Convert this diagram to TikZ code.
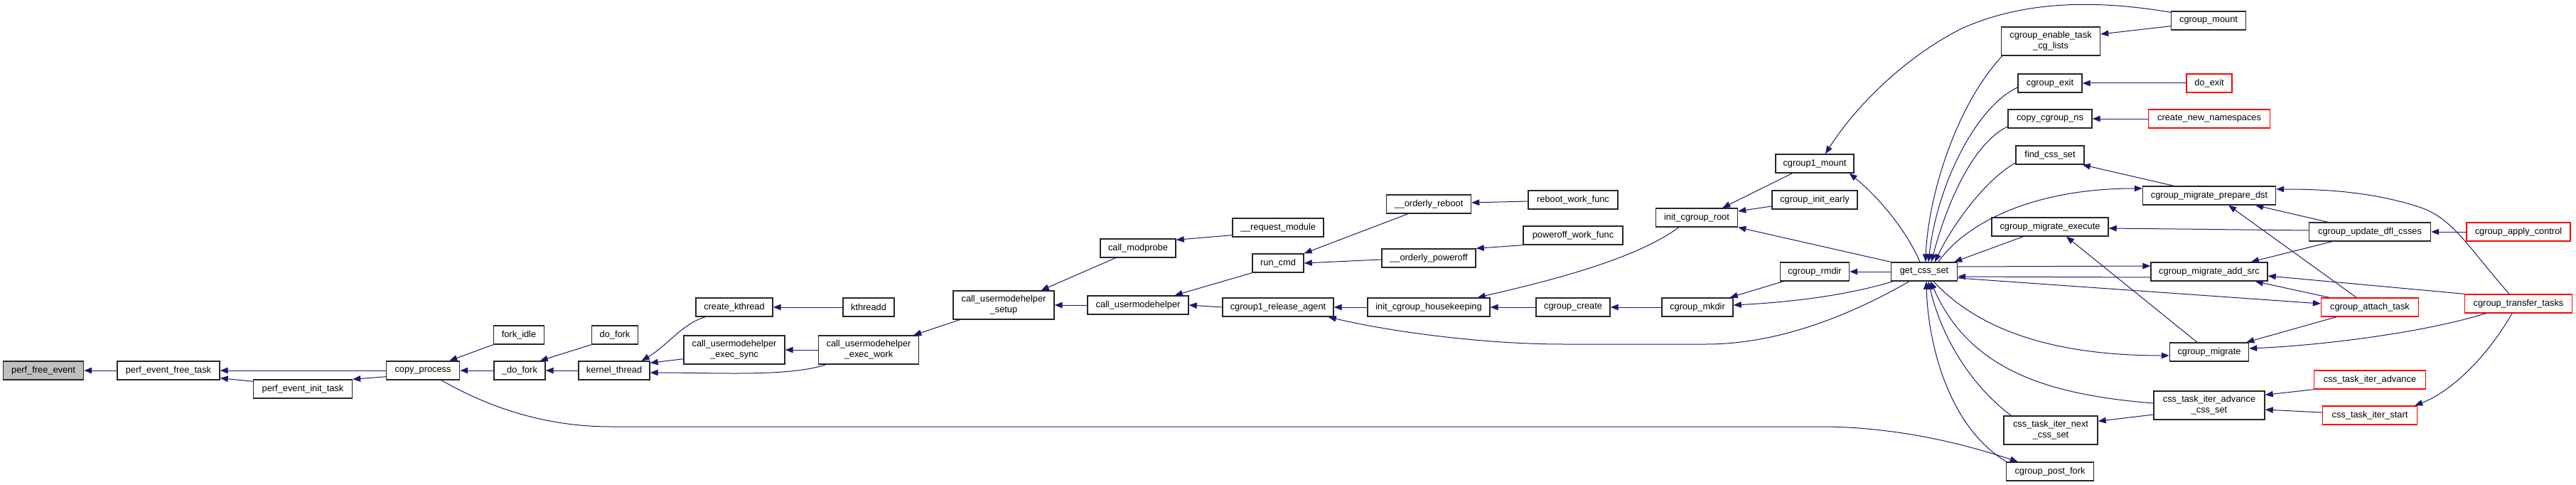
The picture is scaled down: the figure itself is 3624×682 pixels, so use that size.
\documentclass[tikz,border=0pt]{standalone}
\usepackage{fontspec}
\setmainfont{Liberation Sans}
\usetikzlibrary{arrows.meta}
\definecolor{CallBlue}{RGB}{25,25,112}
\definecolor{RootGray}{RGB}{191,191,191}
\definecolor{CutRed}{RGB}{255,0,0}
\newcommand{\fnfont}{\fontsize{12.8}{15}\selectfont}

\begin{document}
\begin{tikzpicture}[x=1pt,y=-1pt,
  fn/.style={draw=black!85,line width=1.4pt,fill=white,inner sep=0pt,minimum height=26pt,font=\fnfont,align=center},
  fn2/.style={fn,minimum height=40pt},
  cut/.style={draw=CutRed},
  call/.style={draw=CallBlue,line width=1pt,-{Triangle[length=11pt,width=8.5pt]}}]
  \useasboundingbox (0,0) rectangle (3624,682);
  % functions
  \node[fn,minimum width=113pt,fill=RootGray] (pfe) at (61,521) {perf\_free\_event};
  \node[fn,minimum width=144pt] (peft) at (237,521) {perf\_event\_free\_task};
  \node[fn,minimum width=139pt] (peit) at (426,547) {perf\_event\_init\_task};
  \node[fn,minimum width=103pt] (cp) at (595,521) {copy\_process};
  \node[fn,minimum width=71pt] (fi) at (730,471) {fork\_idle};
  \node[fn,minimum width=72pt] (dfk) at (731,521) {\_do\_fork};
  \node[fn,minimum width=65pt] (dof) at (865,471) {do\_fork};
  \node[fn,minimum width=100pt] (kt) at (864,521) {kernel\_thread};
  \node[fn,minimum width=108pt] (ck) at (1033,432) {create\_kthread};
  \node[fn2,minimum width=142pt] (cues) at (1033,492) {call\_usermodehelper\\\_exec\_sync};
  \node[fn,minimum width=72pt] (kd) at (1222,432) {kthreadd};
  \node[fn2,minimum width=141pt] (cuew) at (1222,492) {call\_usermodehelper\\\_exec\_work};
  \node[fn2,minimum width=142pt] (cus) at (1412,429) {call\_usermodehelper\\\_setup};
  \node[fn,minimum width=106pt] (cmp) at (1601,349) {call\_modprobe};
  \node[fn,minimum width=142pt] (cu) at (1601,429) {call\_usermodehelper};
  \node[fn,minimum width=128pt] (rqm) at (1798,320) {\_\_request\_module};
  \node[fn,minimum width=72pt] (rc) at (1798,370) {run\_cmd};
  \node[fn,minimum width=156pt] (cra) at (1798,432) {cgroup1\_release\_agent};
  \node[fn,minimum width=119pt] (orb) at (2010,287) {\_\_orderly\_reboot};
  \node[fn,minimum width=132pt] (opo) at (2010,363) {\_\_orderly\_poweroff};
  \node[fn,minimum width=172pt] (ich) at (2010,432) {init\_cgroup\_housekeeping};
  \node[fn,minimum width=126pt] (rwf) at (2213,281) {reboot\_work\_func};
  \node[fn,minimum width=140pt] (pwf) at (2213,331) {poweroff\_work\_func};
  \node[fn,minimum width=104pt] (ccr) at (2213,432) {cgroup\_create};
  \node[fn,minimum width=115pt] (icr) at (2387,306) {init\_cgroup\_root};
  \node[fn,minimum width=100pt] (cmk) at (2388,432) {cgroup\_mkdir};
  \node[fn,minimum width=110pt] (c1m) at (2553,230) {cgroup1\_mount};
  \node[fn,minimum width=120pt] (cie) at (2553,281) {cgroup\_init\_early};
  \node[fn,minimum width=97pt] (crm) at (2553,382) {cgroup\_rmdir};
  \node[fn,minimum width=93pt] (gcs) at (2707,382) {get\_css\_set};
  \node[fn2,minimum width=139pt] (cetl) at (2885,58) {cgroup\_enable\_task\\\_cg\_lists};
  \node[fn,minimum width=90pt] (cex) at (2884,117) {cgroup\_exit};
  \node[fn,minimum width=118pt] (ccn) at (2884,167) {copy\_cgroup\_ns};
  \node[fn,minimum width=96pt] (fcs) at (2884,218) {find\_css\_set};
  \node[fn,minimum width=164pt] (cme) at (2884,319) {cgroup\_migrate\_execute};
  \node[fn2,minimum width=132pt] (tins) at (2885,605) {css\_task\_iter\_next\\\_css\_set};
  \node[fn,minimum width=123pt] (cpf) at (2884,663) {cgroup\_post\_fork};
  \node[fn,minimum width=105pt] (cmt) at (3107,29) {cgroup\_mount};
  \node[fn,cut,minimum width=64pt] (dex) at (3108,117) {do\_exit};
  \node[fn,cut,minimum width=171pt] (cnn) at (3108,167) {create\_new\_namespaces};
  \node[fn,minimum width=187pt] (cmpd) at (3108,275) {cgroup\_migrate\_prepare\_dst};
  \node[fn,minimum width=164pt] (cmas) at (3108,382) {cgroup\_migrate\_add\_src};
  \node[fn,minimum width=111pt] (cmg) at (3108,495) {cgroup\_migrate};
  \node[fn2,minimum width=156pt] (tiacs) at (3108,570) {css\_task\_iter\_advance\\\_css\_set};
  \node[fn,minimum width=171pt] (cudc) at (3334,326) {cgroup\_update\_dfl\_csses};
  \node[fn,cut,minimum width=137pt] (cat) at (3334,432) {cgroup\_attach\_task};
  \node[fn,cut,minimum width=157pt] (tia) at (3334,534) {css\_task\_iter\_advance};
  \node[fn,cut,minimum width=133pt] (tis) at (3334,584) {css\_task\_iter\_start};
  \node[fn,cut,minimum width=146pt] (cac) at (3543,326) {cgroup\_apply\_control};
  \node[fn,cut,minimum width=151pt] (ctt) at (3543,427) {cgroup\_transfer\_tasks};
  % calls, left part
  \draw[call] (peft.west) -- (pfe.east);
  \draw[call] (cp.west) -- (peft.east);
  \draw[call] ([yshift=-3pt]peit.north west) -- ([yshift=3pt]peft.south east);
  \draw[call] ([yshift=5pt]cp.south west) -- (peit.north east);
  \draw[call] (fi.south west) -- ([xshift=-15pt]cp.north east);
  \draw[call] (dfk.west) -- (cp.east);
  \draw[call] (dof.south west) -- ([xshift=-8pt]dfk.north east);
  \draw[call] (kt.west) -- (dfk.east);
  \draw[call] ([xshift=14pt]ck.south west) .. controls (960,455) and (940,485) .. ([xshift=-12pt]kt.north east);
  \draw[call] ([yshift=8pt]cues.south west) -- ([yshift=-3pt]kt.north east);
  \draw[call] ([xshift=11pt]cuew.south west) .. controls (1110,530) and (1010,524) .. ([yshift=-3pt]kt.east);
  \draw[call] (kd.west) -- (ck.east);
  \draw[call] (cuew.west) -- (cues.east);
  \draw[call] ([xshift=10pt]cus.south west) -- ([xshift=-8pt]cuew.north east);
  \draw[call] ([xshift=22pt]cmp.south west) -- ([xshift=-19pt]cus.north east);
  \draw[call] (cu.west) -- (cus.east);
  \draw[call] ([yshift=3pt]rqm.south west) -- ([yshift=-2pt]cmp.north east);
  \draw[call] (rc.south west) -- ([xshift=-20pt]cu.north east);
  \draw[call] (cra.west) -- (cu.east);
  \draw[call] ([xshift=31pt]orb.south west) -- (rc.north east);
  \draw[call] ([yshift=-2pt]opo.west) -- (rc.east);
  \draw[call] ([yshift=-2pt]rwf.west) -- ([yshift=2pt]orb.east);
  \draw[call] (pwf.south west) -- (opo.north east);
  \draw[call] (ich.west) -- (cra.east);
  \draw[call] ([xshift=-21pt]gcs.south) .. controls (2600,445) and (2500,484) .. (2400,484)
    -- (2200,484) .. controls (2080,484) and (1950,465) .. ([xshift=-8pt]cra.south east);
  \draw[call] ([xshift=33pt]icr.south west) .. controls (2300,365) and (2180,395) .. ([xshift=-18pt]ich.north east);
  \draw[call] (ccr.west) -- (ich.east);
  \draw[call] (cmk.west) -- (ccr.east);
  \draw[call] ([xshift=24pt]c1m.south west) -- ([xshift=-22pt]icr.north east);
  \draw[call] ([yshift=-9pt]cie.west) -- ([yshift=9pt]icr.east);
  \draw[call] (gcs.north west) -- (icr.south east);
  \draw[call] ([xshift=5pt]crm.south west) -- ([xshift=-5pt]cmk.north east);
  \draw[call] ([xshift=3pt]gcs.south west) .. controls (2600,415) and (2520,425) .. ([yshift=3pt]cmk.east);
  \draw[call] (gcs.west) -- (crm.east);
  % calls round get_css_set
  \draw[call] ([xshift=-6pt]gcs.north) .. controls (2680,320) and (2640,275) .. ([xshift=-7pt]c1m.south east);
  \draw[call] ([yshift=-2pt]cmt.north west) .. controls (2950,0) and (2850,0) .. (2760,40)
    .. controls (2680,80) and (2610,150) .. ([xshift=15pt]c1m.north);
  \draw[call] ([yshift=6pt]cmt.south west) -- ([yshift=10pt]cetl.east);
  \draw[call] ([xshift=2pt]cetl.south west) .. controls (2750,150) and (2712,280) .. ([xshift=2pt]gcs.north);
  \draw[call] (dex.west) -- (cex.east);
  \draw[call] ([yshift=-6pt]cex.west) .. controls (2780,150) and (2725,260) .. ([xshift=6pt]gcs.north);
  \draw[call] (cnn.west) -- (ccn.east);
  \draw[call] ([yshift=-11pt]ccn.west) .. controls (2770,205) and (2735,300) .. ([xshift=10pt]gcs.north);
  \draw[call] ([yshift=-11pt]fcs.west) .. controls (2790,255) and (2745,320) .. ([xshift=15pt]gcs.north);
  \draw[call] ([xshift=44pt]cmpd.north west) -- ([xshift=-3pt]fcs.south east);
  \draw[call] ([xshift=20pt]gcs.north) .. controls (2760,320) and (2850,265) .. ([yshift=10pt]cmpd.west);
  \draw[call] ([xshift=45pt]cme.south west) -- ([xshift=-5pt]gcs.north east);
  \draw[call] ([yshift=2pt]cudc.west) -- ([yshift=-2pt]cme.east);
  \draw[call] ([xshift=27pt]cudc.north west) -- ([xshift=-29pt]cmpd.south east);
  \draw[call] ([xshift=-19pt]cat.north) -- ([xshift=-67pt]cmpd.south east);
  \draw[call] ([xshift=-13pt]ctt.north) .. controls (3470,345) and (3450,305) .. (3400,290)
    .. controls (3330,268) and (3260,266) .. ([yshift=9pt]cmpd.east);
  \draw[call] (cac.west) -- (cudc.east);
  \draw[call] ([xshift=-17pt]cmg.north) -- ([xshift=23pt]cme.south);
  \draw[call] ([xshift=33pt]cudc.south west) -- ([xshift=-24pt]cmas.north east);
  \draw[call] (ctt.north west) -- ([yshift=-6pt]cmas.east);
  \draw[call] ([xshift=12pt]cat.north west) -- ([xshift=-18pt]cmas.south east);
  \draw[call] ([yshift=7pt]gcs.east) -- ([yshift=8pt]cmas.west);
  \draw[call] ([yshift=-8pt]cmas.west) -- ([yshift=-7pt]gcs.east);
  \draw[call] ([yshift=-9pt]gcs.east) -- ([yshift=5pt]cat.west);
  \draw[call] ([xshift=13pt]gcs.south) .. controls (2780,460) and (2880,500) .. ([yshift=-5pt]cmg.west);
  \draw[call] ([xshift=22pt]cat.south west) -- ([xshift=-4pt]cmg.north east);
  \draw[call] ([xshift=30pt]ctt.south west) .. controls (3420,465) and (3280,485) .. ([yshift=5pt]cmg.east);
  \draw[call] (tia.south west) -- ([yshift=-6pt]tiacs.north east);
  \draw[call] ([yshift=4pt]tis.west) -- ([yshift=-6pt]tiacs.east);
  \draw[call] ([xshift=-9pt]ctt.south) .. controls (3500,500) and (3450,550) .. ([xshift=-4pt]tis.north east);
  \draw[call] ([yshift=-13pt]tiacs.west) -- ([yshift=-8pt]tins.north east);
  \draw[call] ([yshift=3pt]tiacs.west) .. controls (2880,555) and (2770,520) .. ([xshift=9pt]gcs.south);
  \draw[call] ([xshift=11pt]tins.north west) .. controls (2770,540) and (2730,470) .. ([xshift=6pt]gcs.south);
  \draw[call] ([xshift=1pt]cpf.north west) .. controls (2740,600) and (2712,480) .. ([xshift=3pt]gcs.south);
  \draw[call] ([xshift=26pt]cp.south) .. controls (700,580) and (780,600) .. (860,600)
    -- (2560,600) .. controls (2680,600) and (2780,630) .. ([xshift=17pt]cpf.north west);
\end{tikzpicture}
\end{document}
